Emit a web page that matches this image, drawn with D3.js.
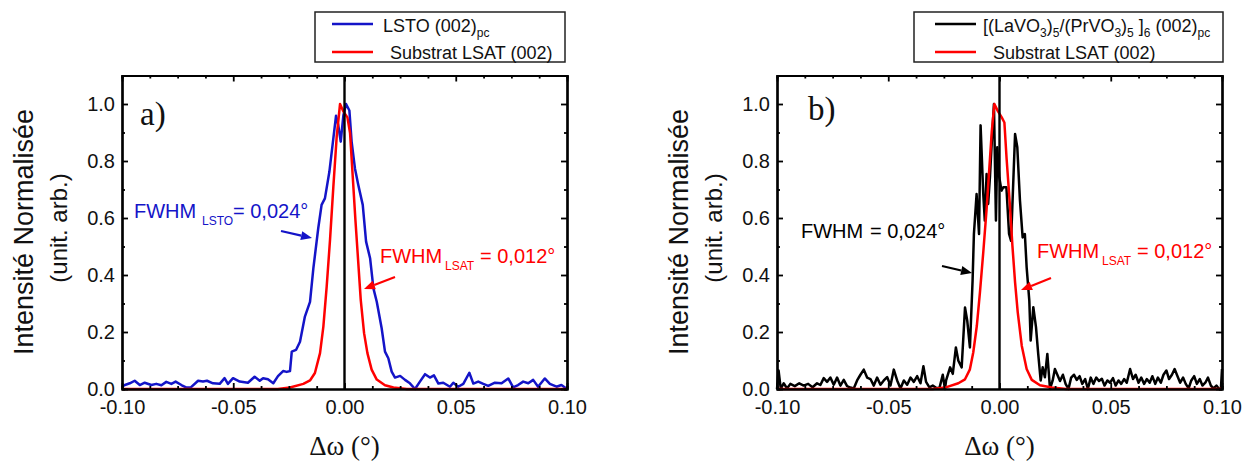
<!DOCTYPE html>
<html><head><meta charset="utf-8">
<script src="https://cdn.jsdelivr.net/npm/d3@7"></script>
<style>body{margin:0;background:#fff}</style>
</head><body>
<svg id="chart" width="1251" height="464"></svg>
<script>
// ---------- data ----------
const xTickValues = [-0.10, -0.05, 0.00, 0.05, 0.10];
const xMinorValues = [-0.0875, -0.075, -0.0625, -0.0375, -0.025, -0.0125, 0.0125, 0.025, 0.0375, 0.0625, 0.075, 0.0875];
const yTickValues = [0.0, 0.2, 0.4, 0.6, 0.8, 1.0];
const yMinorValues = [0.1, 0.3, 0.5, 0.7, 0.9];

// panel a) LSTO (002)pc
const lstoPoints = [[-0.1,0.008],[-0.0987,0.014],[-0.0965,0.02],[-0.0943,0.029],[-0.092,0.014],[-0.0898,0.022],[-0.0868,0.014],[-0.0846,0.018],[-0.0823,0.013],[-0.0801,0.025],[-0.0778,0.018],[-0.0759,0.026],[-0.0733,0.014],[-0.071,0.005],[-0.0692,0.005],[-0.0658,0.029],[-0.0636,0.026],[-0.0618,0.029],[-0.0591,0.02],[-0.0561,0.018],[-0.0539,0.038],[-0.0524,0.018],[-0.0501,0.038],[-0.0471,0.026],[-0.0434,0.022],[-0.0404,0.043],[-0.0381,0.029],[-0.0366,0.038],[-0.0344,0.034],[-0.032,0.02],[-0.0299,0.045],[-0.0276,0.063],[-0.026,0.06],[-0.0245,0.063],[-0.0237,0.131],[-0.0218,0.137],[-0.020,0.166],[-0.0178,0.254],[-0.0155,0.306],[-0.014,0.423],[-0.0118,0.564],[-0.0103,0.646],[-0.0088,0.669],[-0.0068,0.762],[-0.005,0.88],[-0.0038,0.959],[-0.0028,0.926],[-0.0017,0.868],[-0.0005,0.96],[0.0007,1.0],[0.0022,0.977],[0.0032,0.868],[0.0047,0.774],[0.0062,0.716],[0.0082,0.646],[0.0097,0.517],[0.0115,0.459],[0.013,0.353],[0.0145,0.306],[0.0167,0.213],[0.0182,0.131],[0.0197,0.108],[0.0212,0.061],[0.0227,0.04],[0.025,0.046],[0.0272,0.032],[0.0294,0.02],[0.0317,0.0],[0.0339,0.026],[0.0362,0.052],[0.0384,0.04],[0.0402,0.048],[0.0422,0.019],[0.0444,0.022],[0.0474,0.008],[0.0489,0.022],[0.0511,0.008],[0.0534,0.018],[0.0561,0.057],[0.0579,0.019],[0.0601,0.026],[0.0624,0.018],[0.0646,0.011],[0.0676,0.022],[0.0706,0.02],[0.0736,0.037],[0.0758,0.006],[0.078,0.014],[0.0803,0.026],[0.0826,0.02],[0.0848,0.032],[0.087,0.008],[0.09,0.037],[0.0923,0.018],[0.0953,0.008],[0.0975,0.014],[0.1,0.0]];

// panel a) substrate LSAT (002)
const lsatAPoints = [[-0.1,0],[-0.03,0],[-0.0245,0.005],[-0.0185,0.018],[-0.0155,0.03],[-0.0133,0.056],[-0.011,0.126],[-0.0095,0.219],[-0.008,0.36],[-0.0065,0.524],[-0.005,0.711],[-0.0035,0.886],[-0.002,1.0],[-0.0005,0.974],[0.0013,0.953],[0.0025,0.898],[0.0037,0.746],[0.0049,0.594],[0.0061,0.454],[0.0073,0.313],[0.0088,0.196],[0.0103,0.126],[0.0122,0.068],[0.0145,0.033],[0.0182,0.013],[0.022,0.005],[0.028,0],[0.1,0]];

// panel b) [(LaVO3)5/(PrVO3)5]6 (002)pc
const slPoints = [[-0.1,0],[-0.0993,0.065],[-0.0983,0],[-0.097,0.02],[-0.0955,0.002],[-0.094,0.018],[-0.092,0.01],[-0.09,0.02],[-0.088,0.012],[-0.086,0.018],[-0.084,0.006],[-0.082,0.02],[-0.0805,0.014],[-0.079,0.038],[-0.0775,0.025],[-0.076,0.04],[-0.0745,0.015],[-0.073,0.04],[-0.0715,0.012],[-0.07,0.032],[-0.0685,0.01],[-0.067,0.005],[-0.0655,0.002],[-0.064,0.03],[-0.0625,0.05],[-0.061,0.068],[-0.0595,0.04],[-0.058,0.035],[-0.0565,0.012],[-0.055,0.04],[-0.0535,0.015],[-0.052,0.03],[-0.0505,0.042],[-0.049,0.012],[-0.0475,0.068],[-0.046,0.03],[-0.0445,0.002],[-0.043,0.03],[-0.0415,0.015],[-0.04,0.04],[-0.0385,0.025],[-0.037,0.045],[-0.0355,0.02],[-0.0342,0.08],[-0.033,0.025],[-0.0315,0.006],[-0.03,0.012],[-0.0285,0.004],[-0.027,0.003],[-0.0255,0.05],[-0.0245,0.0],[-0.024,0.03],[-0.0222,0.076],[-0.021,0.053],[-0.0196,0.146],[-0.0185,0.099],[-0.017,0.076],[-0.0155,0.286],[-0.0145,0.24],[-0.0133,0.146],[-0.0121,0.38],[-0.0115,0.544],[-0.0103,0.684],[-0.0092,0.544],[-0.0085,0.925],[-0.0073,0.684],[-0.0066,0.591],[-0.0058,0.754],[-0.0051,0.649],[-0.0043,0.743],[-0.0036,0.848],[-0.0025,1.0],[-0.0016,0.591],[-0.001,0.848],[-0.0001,0.743],[0.0009,0.696],[0.0017,0.708],[0.0031,0.708],[0.0043,0.544],[0.0052,0.52],[0.007,0.895],[0.008,0.848],[0.0092,0.661],[0.0104,0.532],[0.0114,0.544],[0.0122,0.427],[0.0134,0.31],[0.014,0.17],[0.0152,0.287],[0.0164,0.217],[0.0174,0.123],[0.0185,0.03],[0.0194,0.076],[0.0204,0.041],[0.0215,0.123],[0.0227,0],[0.0239,0.03],[0.0249,0.07],[0.026,0.05],[0.0272,0.028],[0.0285,0.05],[0.0297,0.018],[0.031,0],[0.0322,0.04],[0.0335,0.05],[0.0347,0.032],[0.036,0.045],[0.0372,0.018],[0.0385,0.035],[0.0397,0.0],[0.041,0.04],[0.0422,0.018],[0.0435,0.04],[0.0447,0.028],[0.046,0.036],[0.0472,0.012],[0.0485,0.03],[0.0497,0.022],[0.051,0.038],[0.0522,0.012],[0.0535,0.03],[0.0547,0.018],[0.056,0.035],[0.0572,0.022],[0.0587,0.07],[0.06,0.035],[0.0612,0.05],[0.0625,0.022],[0.0637,0.04],[0.065,0.018],[0.0662,0.035],[0.0675,0.022],[0.0687,0.045],[0.07,0.018],[0.0712,0.04],[0.0725,0.022],[0.0737,0.05],[0.075,0.065],[0.0762,0.035],[0.0775,0.05],[0.0787,0.07],[0.08,0.045],[0.0812,0.022],[0.0825,0.04],[0.0837,0.018],[0.085,0.002],[0.0862,0.03],[0.0875,0.045],[0.0887,0.018],[0.09,0.035],[0.0912,0.012],[0.0925,0.022],[0.0937,0.04],[0.095,0.012],[0.0962,0.002],[0.0975,0.012],[0.0987,0.0],[0.0995,0.0],[0.1,0.07]];

// panel b) substrate LSAT (002)
const lsatBPoints = [[-0.1,0],[-0.03,0],[-0.0245,0.005],[-0.0185,0.02],[-0.0155,0.034],[-0.0133,0.069],[-0.0118,0.128],[-0.0102,0.221],[-0.0088,0.338],[-0.0073,0.479],[-0.0058,0.631],[-0.0043,0.807],[-0.0035,0.901],[-0.0023,1.0],[-0.0008,0.976],[0.001,0.953],[0.0022,0.935],[0.0032,0.807],[0.0047,0.643],[0.0058,0.503],[0.007,0.374],[0.0082,0.269],[0.01,0.152],[0.0122,0.07],[0.0145,0.032],[0.0182,0.013],[0.0235,0.005],[0.03,0],[0.1,0]];

const xDomain = [-0.1, 0.1];
const yDomain = [0, 1.1];

// ---------- drawing ----------
const BLUE = "#1414c8", RED = "#ff0000", BLACK = "#000";
const SANS = "'Liberation Sans', Arial, Helvetica, sans-serif";
const SERIF = "'Liberation Serif', 'Times New Roman', serif";
const svg = d3.select("#chart");
svg.append("rect").attr("width",1251).attr("height",464).attr("fill","#fff");

const TOP = 75.5, BOTTOM = 389;

function arrow(g, x1, y1, x2, y2, color) {
  const ang = Math.atan2(y2 - y1, x2 - x1);
  const L = 11, W = 4.5;
  const bx = x2 - L * Math.cos(ang), by = y2 - L * Math.sin(ang);
  g.append("line").attr("x1", x1).attr("y1", y1).attr("x2", bx).attr("y2", by)
    .attr("stroke", color).attr("stroke-width", 2.2);
  const px = -Math.sin(ang), py = Math.cos(ang);
  g.append("polygon")
    .attr("points", `${x2},${y2} ${bx + W*px},${by + W*py} ${bx - W*px},${by - W*py}`)
    .attr("fill", color);
}

function subText(g, parts, x, y, color) {
  const t = g.append("text").attr("x", x).attr("y", y).attr("fill", color)
    .attr("font-family", SANS).attr("font-size", 18);
  let prevSub = false;
  parts.forEach(([s, sub]) => {
    const ts = t.append("tspan").text(s);
    if (sub && !prevSub) ts.attr("dy", 5).attr("font-size", 12);
    else if (sub) ts.attr("font-size", 12);
    else if (!sub && prevSub) ts.attr("dy", -5);
    prevSub = sub;
  });
  return t;
}

function panel(cfg) {
  const x = d3.scaleLinear().domain(xDomain).range([cfg.left, cfg.right]);
  const y = d3.scaleLinear().domain(yDomain).range([BOTTOM, TOP]);
  const g = svg.append("g");

  const line = d3.line().x(d => x(d[0])).y(d => y(d[1]));
  cfg.series.forEach(s => {
    g.append("path").datum(s.pts).attr("d", line).attr("fill", "none")
      .attr("stroke", s.color).attr("stroke-width", 2.5).attr("stroke-linejoin", "round");
  });
  // vertical line at 0
  g.append("line").attr("x1", x(0)).attr("x2", x(0)).attr("y1", BOTTOM).attr("y2", TOP)
    .attr("stroke", BLACK).attr("stroke-width", 2.4);

  const styleAxis = sel => {
    sel.selectAll(".domain").attr("stroke", BLACK).attr("stroke-width", 2.2);
    sel.selectAll(".tick line").attr("stroke", BLACK).attr("stroke-width", 1.8);
    sel.selectAll("text").attr("font-family", SANS).attr("font-size", 20).attr("fill", "#111");
  };
  const fmtX = d => d.toFixed(2);
  const fmtY = d => d.toFixed(1);

  // minor ticks
  g.append("g").attr("transform", `translate(0,${BOTTOM})`)
    .call(d3.axisBottom(x).tickValues(xMinorValues).tickSize(-3).tickFormat("")).call(styleAxis);
  g.append("g").attr("transform", `translate(0,${TOP})`)
    .call(d3.axisTop(x).tickValues(xMinorValues).tickSize(-3).tickFormat("")).call(styleAxis);
  g.append("g").attr("transform", `translate(${cfg.left},0)`)
    .call(d3.axisLeft(y).tickValues(yMinorValues).tickSize(-3).tickFormat("")).call(styleAxis);
  g.append("g").attr("transform", `translate(${cfg.right},0)`)
    .call(d3.axisRight(y).tickValues(yMinorValues).tickSize(-3).tickFormat("")).call(styleAxis);
  // major ticks
  g.append("g").attr("transform", `translate(0,${BOTTOM})`)
    .call(d3.axisBottom(x).tickValues(xTickValues).tickSize(-6).tickSizeOuter(0).tickPadding(11).tickFormat(fmtX)).call(styleAxis);
  g.append("g").attr("transform", `translate(0,${TOP})`)
    .call(d3.axisTop(x).tickValues(xTickValues).tickSize(-6).tickSizeOuter(0).tickFormat("")).call(styleAxis);
  g.append("g").attr("transform", `translate(${cfg.left},0)`)
    .call(d3.axisLeft(y).tickValues(yTickValues).tickSize(-6).tickSizeOuter(0).tickPadding(7).tickFormat(fmtY)).call(styleAxis);
  g.append("g").attr("transform", `translate(${cfg.right},0)`)
    .call(d3.axisRight(y).tickValues(yTickValues).tickSize(-6).tickSizeOuter(0).tickFormat("")).call(styleAxis);

  // axis titles
  const cy = 232;
  g.append("text").attr("transform", `translate(${cfg.left - 89},${cy}) rotate(-90)`)
    .attr("text-anchor", "middle").attr("font-family", SANS).attr("font-size", 27).attr("fill", "#111")
    .text("Intensité Normalisée");
  g.append("text").attr("transform", `translate(${cfg.left - 55},${cy - 4}) rotate(-90)`)
    .attr("text-anchor", "middle").attr("font-family", SANS).attr("font-size", 24).attr("fill", "#111")
    .text("(unit. arb.)");
  g.append("text").attr("x", x(0)).attr("y", 455).attr("text-anchor", "middle")
    .attr("font-family", SERIF).attr("font-size", 27).attr("fill", "#111").text("Δω (°)");

  // panel label
  g.append("text").attr("x", cfg.labelX).attr("y", cfg.labelY).attr("font-family", SERIF)
    .attr("font-size", 33).attr("fill", "#111").text(cfg.label);

  // legend
  const lg = g.append("g");
  lg.append("rect").attr("x", cfg.legend.x).attr("y", 12).attr("width", cfg.legend.w).attr("height", 50)
    .attr("fill", "#fff").attr("stroke", "#222").attr("stroke-width", 1.5);
  cfg.legend.items.forEach((it, i) => {
    const ly = i === 0 ? 24 : 52;
    lg.append("line").attr("x1", cfg.legend.lx1).attr("x2", cfg.legend.lx1 + 41).attr("y1", ly).attr("y2", ly)
      .attr("stroke", it.color).attr("stroke-width", 2.5);
    subText(lg, it.parts, it.tx, i === 0 ? 31.5 : 59, "#111");
  });

  // annotations
  cfg.notes.forEach(n => {
    const t = g.append("text").attr("x", n.x).attr("y", n.y).attr("fill", n.color)
      .attr("font-family", SANS).attr("font-size", 20);
    t.append("tspan").text("FWHM");
    if (n.sub) t.append("tspan").attr("x", n.subX).attr("dy", 7).attr("font-size", 12).text(n.sub);
    t.append("tspan").attr("x", n.eqX).attr("y", n.y).text(n.value);
    arrow(g, n.a[0], n.a[1], n.a[2], n.a[3], n.color);
  });
}

panel({
  left: 122, right: 567, label: "a)", labelX: 140, labelY: 125,
  series: [{pts: lstoPoints, color: BLUE}, {pts: lsatAPoints, color: RED}],
  legend: {x: 315, w: 250, lx1: 332, items: [
    {color: BLUE, tx: 383, parts: [["LSTO (002)", false], ["pc", true]]},
    {color: RED, tx: 390, parts: [["Substrat LSAT (002)", false]]}
  ]},
  notes: [
    {x: 134, y: 218, color: BLUE, sub: "LSTO", subX: 202, eqX: 233, value: "= 0,024°", a: [281, 231, 312, 238]},
    {x: 380, y: 263, color: RED, sub: "LSAT", subX: 445, eqX: 480, value: "= 0,012°", a: [395, 277, 364, 289]}
  ]
});

panel({
  left: 777, right: 1222, label: "b)", labelX: 808, labelY: 120,
  series: [{pts: slPoints, color: BLACK}, {pts: lsatBPoints, color: RED}],
  legend: {x: 914, w: 309, lx1: 935, items: [
    {color: BLACK, tx: 983, parts: [["[(LaVO", false], ["3", true], [")", false], ["5", true], ["/(PrVO", false], ["3", true], [")", false], ["5", true], [" ]", false], ["6", true], [" (002)", false], ["pc", true]]},
    {color: RED, tx: 993, parts: [["Substrat LSAT (002)", false]]}
  ]},
  notes: [
    {x: 801, y: 238, color: BLACK, sub: null, eqX: 870, value: "= 0,024°", a: [942, 266, 972, 273]},
    {x: 1037, y: 258, color: RED, sub: "LSAT", subX: 1102, eqX: 1137, value: "= 0,012°", a: [1051, 278, 1021, 290]}
  ]
});
</script>
</body></html>
